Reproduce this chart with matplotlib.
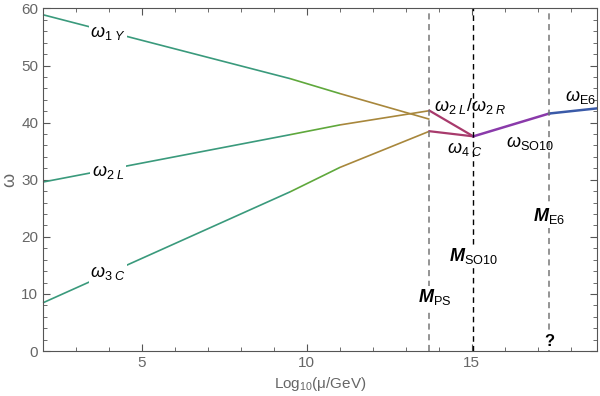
import matplotlib
matplotlib.use("Agg")
import matplotlib.pyplot as plt
from matplotlib.patches import Rectangle

plt.rcParams['font.family'] = ['Liberation Sans', 'DejaVu Sans']
plt.rcParams['mathtext.fontset'] = 'custom'
plt.rcParams['mathtext.rm'] = 'Liberation Sans'
plt.rcParams['mathtext.it'] = 'Liberation Sans:italic'
plt.rcParams['mathtext.bf'] = 'Liberation Sans:bold'
plt.rcParams['mathtext.bfit'] = 'Liberation Sans:bold:italic'

# scales (log10 of mu/GeV)
M_PS = 13.72
M_SO10 = 15.05
M_E6 = 17.35
x_max = 18.8

# low-energy running, nodes at x = 2, 9.5, 11, M_PS
x_low = [2, 9.5, 11, M_PS]
w1Y = [58.9, 47.7, 45.1, 40.6]
w2L = [29.6, 37.9, 39.6, 42.1]
w3C = [8.45, 27.9, 32.15, 38.5]

# Pati-Salam stage
x_ps = [M_PS, M_SO10]
w2LR = [42.1, 37.6]
w4C = [38.5, 37.6]

# SO10 and E6 stages
x_so10 = [M_SO10, M_E6]
wSO10 = [37.6, 41.6]
x_e6 = [M_E6, x_max]
wE6 = [41.6, 42.5]

teal = '#3a9a7c'
green = '#5fa83c'
brown = '#a8873c'
magenta = '#a83a6c'
purple = '#8a3aaa'
blue = '#3a5aa8'

fig = plt.figure(figsize=(6, 3.96), dpi=100)
ax = fig.add_axes([0.0717, 0.1136, 0.9233, 0.865])

bands = [(0, 9.5, teal), (9.5, 11, green), (11, 30, brown)]
for ys in (w1Y, w2L, w3C):
    for lo, hi, c in bands:
        ln, = ax.plot(x_low, ys, color=c, lw=1.2, solid_capstyle='butt')
        clip = Rectangle((lo, -100), hi - lo, 300, transform=ax.transData)
        ln.set_clip_path(clip)

ax.plot(x_ps, w2LR, color=magenta, lw=1.6)
ax.plot(x_ps, w4C, color=magenta, lw=1.6)
ax.plot(x_so10, wSO10, color=purple, lw=1.8)
ax.plot(x_e6, wE6, color=blue, lw=1.8)

ax.axvline(M_PS, color='#777777', ls=(0, (4, 3)), lw=1.1)
ax.axvline(M_SO10, color='black', ls=(0, (4, 3)), lw=1.0)
ax.axvline(M_E6, color='#777777', ls=(0, (4, 3)), lw=1.1)

box = dict(facecolor='white', edgecolor='none', pad=1)
fs = 13
ax.text(3.97, 55.7, r'$\omega_{1\ Y}$', fontsize=fs, ha='center', va='center', bbox=box)
ax.text(3.97, 31.4, r'$\omega_{2\ L}$', fontsize=fs, ha='center', va='center', bbox=box)
ax.text(3.97, 13.6, r'$\omega_{3\ C}$', fontsize=fs, ha='center', va='center', bbox=box)
ax.text(14.95, 43.0, r'$\omega_{2\ L}/\omega_{2\ R}$', fontsize=fs, ha='center', va='center')
ax.text(14.8, 35.3, r'$\omega_{4\ C}$', fontsize=fs, ha='center', va='center')
ax.text(16.75, 36.4, r'$\omega_{\mathrm{SO10}}$', fontsize=fs, ha='center', va='center')
ax.text(18.3, 44.5, r'$\omega_{\mathrm{E6}}$', fontsize=fs, ha='center', va='center')

ax.text(M_PS + 0.15, 9.4, r'$\mathbfit{M}_{\mathrm{PS}}$', fontsize=fs, ha='center', va='center', bbox=box)
ax.text(M_SO10, 16.6, r'$\mathbfit{M}_{\mathrm{SO10}}$', fontsize=fs, ha='center', va='center', bbox=box)
ax.text(M_E6, 23.6, r'$\mathbfit{M}_{\mathrm{E6}}$', fontsize=fs, ha='center', va='center', bbox=box)
ax.text(M_E6, 1.7, '?', fontsize=12, fontweight='bold', ha='center', va='center', bbox=box)

ax.set_xlim(2, x_max)
ax.set_ylim(0, 60)
ax.set_xticks([5, 10, 15])
ax.set_xticks(range(3, 19), minor=True)
ax.set_yticks(range(0, 61, 10))
ax.set_yticks(range(0, 61, 2), minor=True)
ax.tick_params(which='both', direction='in', color='#555555', labelcolor='#666666',
               labelsize=11, top=True, right=True)
ax.tick_params(which='major', length=5)
ax.tick_params(which='minor', length=3)
ax.tick_params(labeltop=False, labelright=False)
for s in ax.spines.values():
    s.set_color('#555555')

ax.set_xlabel(r'Log$_{10}$(μ/GeV)', color='#666666', fontsize=11, labelpad=4)
ax.set_ylabel('ω', color='#666666', fontsize=13, rotation=90, labelpad=2)

fig.savefig('out.png', dpi=100)
